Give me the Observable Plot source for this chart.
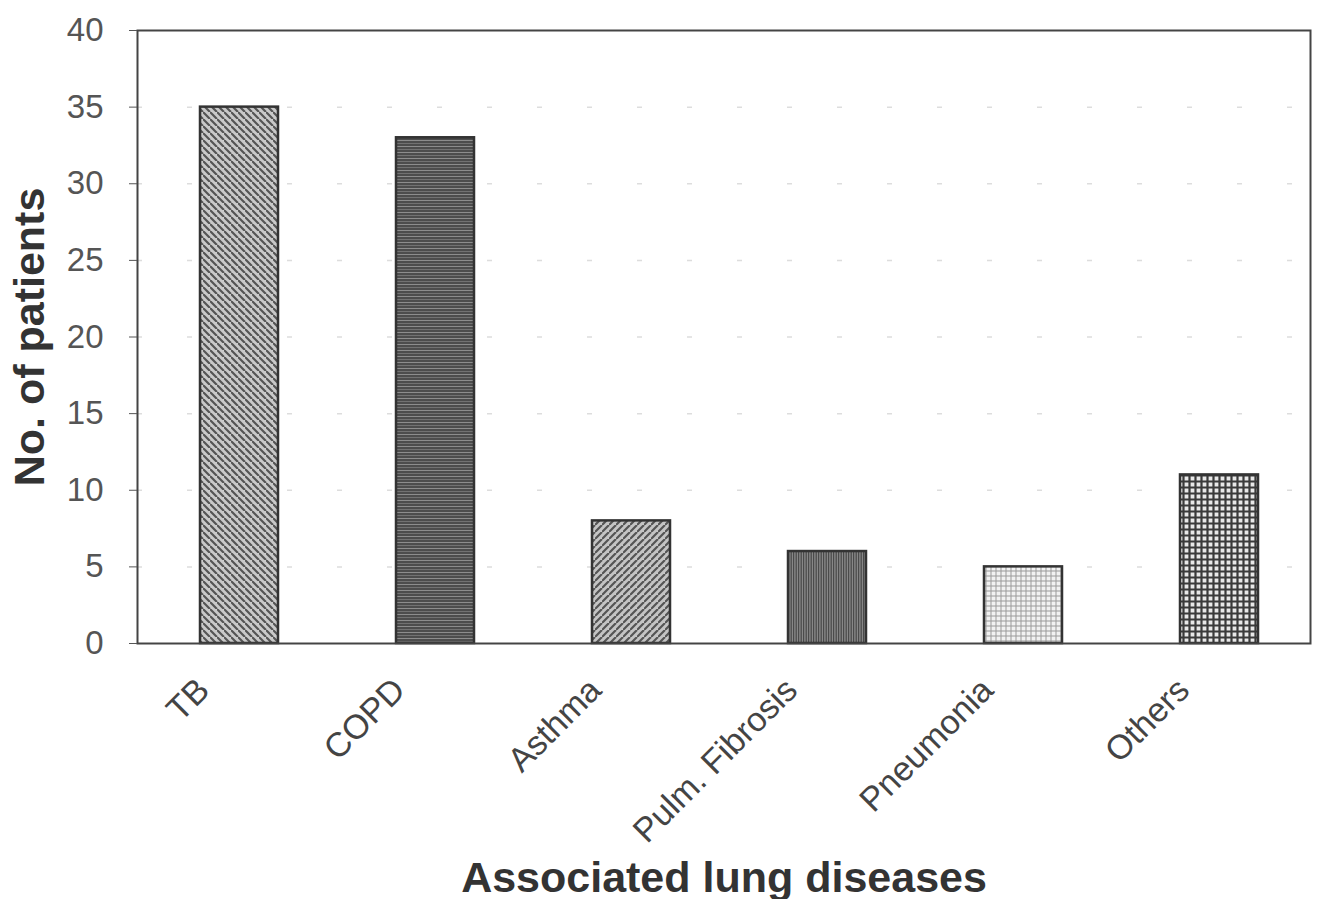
<!DOCTYPE html>
<html>
<head>
<meta charset="utf-8">
<script src="https://cdn.jsdelivr.net/npm/d3@7"></script>
<script src="https://cdn.jsdelivr.net/npm/@observablehq/plot@0.6"></script>
<style>
  html, body { margin: 0; padding: 0; background: #fff; }
  svg { display: block; }
</style>
</head>
<body>
<div id="chart"></div>
<script>
const categories = ["TB", "COPD", "Asthma", "Pulm. Fibrosis", "Pneumonia", "Others"];
const patients = [35, 33, 8, 6, 5, 11];
const patternIds = ["pTB", "pCOPD", "pAsthma", "pPulm", "pPneu", "pOthers"];
const yTicks = [0, 5, 10, 15, 20, 25, 30, 35, 40];

const data = categories.map((c, i) => ({category: c, value: patients[i], fill: `url(#${patternIds[i]})`}));

const W = 1323, H = 899;
const chart = Plot.plot({
  width: W,
  height: H,
  marginLeft: 137,
  marginRight: 13,
  marginTop: 30,
  marginBottom: 256,
  style: {background: "#fff", overflow: "visible"},
  x: {domain: categories, paddingInner: 0.6, paddingOuter: 0.28, align: 0.55},
  y: {domain: [0, 40]},
  color: {type: "identity"},
  marks: [
    Plot.ruleY(yTicks.slice(1, -1), {stroke: "#bbb", strokeWidth: 1.5, strokeDasharray: "5 45", strokeOpacity: 0.5}),
    Plot.barY(data, {x: "category", y: "value", fill: "fill", stroke: "#333", strokeWidth: 2.5}),
    Plot.frame({stroke: "#444", strokeWidth: 2}),
    Plot.axisY({ticks: yTicks, tickSize: 8, tickPadding: 26, fontSize: 33, color: "#555", fontFamily: "Liberation Sans", label: null}),
    Plot.axisX({ticks: [], label: null, tickSize: 0}),
    Plot.text(categories, {x: d => d, frameAnchor: "bottom", rotate: -45, textAnchor: "end", lineAnchor: "middle", dx: -36, dy: 41, fontSize: 34, fill: "#444", fontFamily: "Liberation Sans"}),
    Plot.text(["Associated lung diseases"], {frameAnchor: "bottom", dy: 235, fontSize: 43, fontWeight: "bold", fill: "#333", fontFamily: "Liberation Sans", lineAnchor: "middle", textAnchor: "middle"}),
    Plot.text(["No. of patients"], {frameAnchor: "left", dx: -107, rotate: -90, fontSize: 43, fontWeight: "bold", fill: "#333", fontFamily: "Liberation Sans", lineAnchor: "middle", textAnchor: "middle"})
  ]
});

const svg = d3.select(chart);
const defs = svg.insert("defs", ":first-child");

function pat(id, size, bg, draw) {
  const p = defs.append("pattern").attr("id", id).attr("patternUnits", "userSpaceOnUse")
    .attr("width", size).attr("height", size);
  p.append("rect").attr("width", size).attr("height", size).attr("fill", bg);
  draw(p, size);
}
// TB: "\" diagonal lines on gray
pat("pTB", 7, "#c9c9c9", (p, s) => {
  p.append("path").attr("d", `M0,0 L${s},${s} M${-s},0 L0,${s} M${s},${-s} L${2*s},${s}`)
    .attr("stroke", "#555").attr("stroke-width", 2.2);
});
// COPD: horizontal lines on dark gray
pat("pCOPD", 6, "#727272", (p, s) => {
  p.append("path").attr("d", `M0,1 H${s} M0,4 H${s}`).attr("stroke", "#404040").attr("stroke-width", 1.4);
  p.append("path").attr("d", `M0,2.5 H${s}`).attr("stroke", "#949494").attr("stroke-width", 0.8);
});
// Asthma: "/" diagonal lines
pat("pAsthma", 7, "#c4c4c4", (p, s) => {
  p.append("path").attr("d", `M0,${s} L${s},0 M${-s},${s} L0,0 M${s},${2*s} L${2*s},${s}`)
    .attr("stroke", "#555").attr("stroke-width", 2.2);
});
// Pulm fibrosis: vertical lines dark
pat("pPulm", 5, "#8a8a8a", (p, s) => {
  p.append("path").attr("d", `M1.2,0 V${s} M3.6,0 V${s}`).attr("stroke", "#4a4a4a").attr("stroke-width", 1.3);
});
// Pneumonia: fine light grid
pat("pPneu", 5, "#f2f2f2", (p, s) => {
  p.append("path").attr("d", `M1,0 V${s} M0,1 H${s}`).attr("stroke", "#9a9a9a").attr("stroke-width", 1);
});
// Others: dark grid with light squares
pat("pOthers", 6, "#e8e8e8", (p, s) => {
  p.append("path").attr("d", `M1.5,0 V${s} M0,1.5 H${s}`).attr("stroke", "#3a3a3a").attr("stroke-width", 2.2);
});

document.getElementById("chart").appendChild(chart);
</script>
</body>
</html>
